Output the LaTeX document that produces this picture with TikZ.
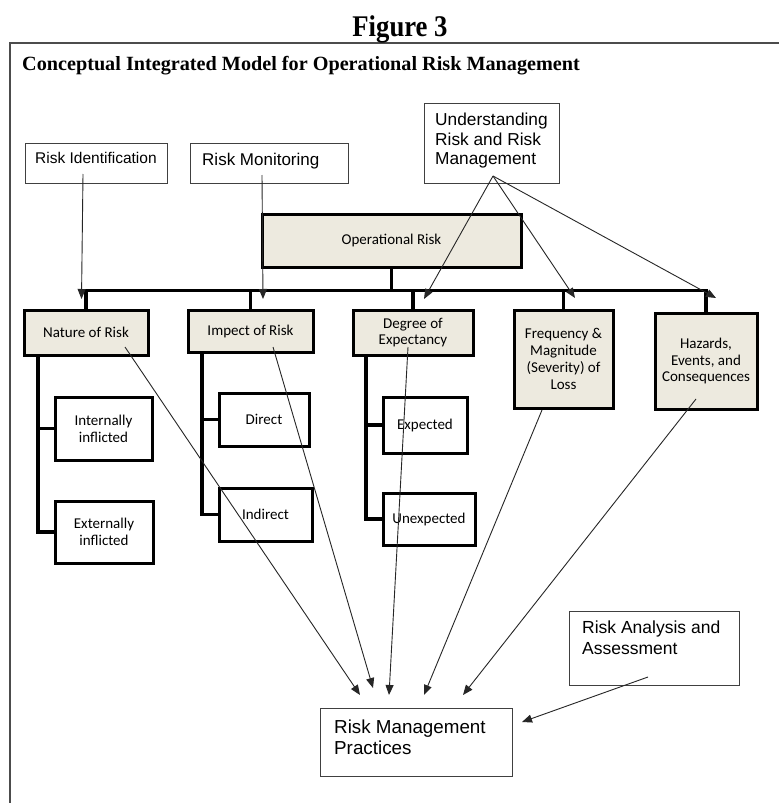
\documentclass[tikz,border=0pt]{standalone}
\usepackage{fontspec}
\setmainfont{Liberation Serif}
\newfontfamily\arialf{Liberation Sans}
\newfontfamily\calf{Carlito}
\usetikzlibrary{arrows.meta}
\definecolor{beige}{HTML}{EDEADF}
\begin{document}
\begin{tikzpicture}[x=1pt,y=-1pt,
  thinbox/.style={draw=black!75, line width=1.2pt, inner sep=0pt, anchor=north west},
  heavybox/.style={draw=black, line width=3pt, fill=beige, inner sep=0pt, align=center,
    font=\calf\fontsize{15}{16.8}\selectfont},
  childbox/.style={heavybox, fill=white},
  bus/.style={line width=3.2pt},
  arr/.style={draw=black!85, line width=0.9pt, -{Triangle[length=10pt,width=8pt]}},
  atext/.style={anchor=base west, inner sep=0pt, align=left}]
\useasboundingbox (0,0) rectangle (779,803);
\fill[white] (0,0) rectangle (779,803);

% frame and titles
\draw[line width=1.5pt, black!70] (10,803) -- (10,43) -- (779,43);
\node[anchor=base, inner sep=0pt] (fig) at (400,36.7)
  {\scalebox{0.89}[1]{\fontsize{30}{30}\selectfont\bfseries Figure 3}};
\node[anchor=base west, inner sep=0pt] (sub) at (22,70)
  {\fontsize{20.2}{21}\selectfont\bfseries Conceptual Integrated Model for Operational Risk Management};

% thin boxes
\node[thinbox, minimum width=142, minimum height=40] (rid) at (25,143) {};
\node[atext, font=\arialf\fontsize{15.5}{18}\selectfont] (ridt) at (35,163) {Risk Identification};
\node[thinbox, minimum width=158, minimum height=40] (rmon) at (190,143) {};
\node[atext, font=\arialf\fontsize{17}{19}\selectfont] (rmont) at (202,165.5) {Risk Monitoring};
\node[thinbox, minimum width=135, minimum height=80] (und) at (424,103) {};
\node[atext, anchor=north west, font=\arialf\fontsize{17.3}{19.5}\selectfont] (undt) at (435,113)
  {Understanding\\Risk and Risk\\Management};
\node[thinbox, minimum width=170, minimum height=74] (ras) at (569,611) {};
\node[atext, anchor=north west, font=\arialf\fontsize{17.5}{20.7}\selectfont] (rast) at (582,620.5)
  {Risk Analysis and\\Assessment};
\node[thinbox, minimum width=192, minimum height=68] (rmp) at (320,708) {};
\node[atext, anchor=north west, font=\arialf\fontsize{18.8}{21}\selectfont] (rmpt) at (334,719.5)
  {Risk Management\\Practices};

% heavy boxes
\node[heavybox, minimum width=259, minimum height=53] (op) at (391.5,240.5) {Operational Risk};
\node[heavybox, minimum width=124, minimum height=45] (nat) at (86,332.5) {Nature of Risk};
\node[heavybox, minimum width=125, minimum height=42] (imp) at (250.5,331) {Impect of Risk};
\node[heavybox, minimum width=120, minimum height=45] (deg) at (413,332.5) {Degree of\\Expectancy};
\node[heavybox, minimum width=99, minimum height=98] (fre) at (563.5,359)
  {Frequency \&\\Magnitude\\(Severity) of\\Loss};
\node[heavybox, minimum width=102, minimum height=96] (haz) at (706,361)
  {Hazards,\\Events, and\\Consequences};

\node[childbox, minimum width=97, minimum height=63] (int) at (103.5,428.5) {Internally\\inflicted};
\node[childbox, minimum width=98, minimum height=62] (ext) at (104,532) {Externally\\inflicted};
\node[childbox, minimum width=90, minimum height=53] (dir) at (264,419.5) {Direct};
\node[childbox, minimum width=93, minimum height=53] (ind) at (265.5,514.5) {Indirect};
\node[childbox, minimum width=84, minimum height=56] (exq) at (425,425) {Expected};
\node[childbox, minimum width=92, minimum height=52] (unx) at (429,519) {Unexpected};

% bus
\coordinate (busc) at (0,290.5);
\draw[bus] (op.south) -- (op.south |- busc);
\draw[bus] (nat.north) -- (nat.north |- busc) -- (haz.north |- busc) -- (haz.north);
\draw[bus] (imp.north) -- (imp.north |- busc);
\draw[bus] (deg.north) -- (deg.north |- busc);
\draw[bus] (fre.north) -- (fre.north |- busc);

% spines
\coordinate (natsp) at (38,355);
\draw[bus] (natsp) |- (ext.west);
\draw[bus] (natsp |- int.west) -- (int.west);
\coordinate (impsp) at (202,352);
\draw[bus] (impsp) |- (ind.west);
\draw[bus] (impsp |- dir.west) -- (dir.west);
\coordinate (degsp) at (366,355);
\draw[bus] (degsp) |- (unx.west);
\draw[bus] (degsp |- exq.west) -- (exq.west);

% arrows
\coordinate (ridS) at (83,174);   \coordinate (ridE) at (81.5,299);
\coordinate (rmonS) at (262,175); \coordinate (rmonE) at (263,299);
\coordinate (undS) at (493,176);
\coordinate (undE1) at (424,299); \coordinate (undE2) at (575,298); \coordinate (undE3) at (716,298);
\coordinate (natS) at (125,347);  \coordinate (natE) at (360,695);
\coordinate (impS) at (273,347);  \coordinate (impE) at (373,688);
\coordinate (degS) at (408,347);  \coordinate (degE) at (389,695);
\coordinate (freS) at (542,410);  \coordinate (freE) at (424,695);
\coordinate (hazS) at (696,399);  \coordinate (hazE) at (463,695);
\coordinate (rasS) at (648,677);  \coordinate (rasE) at (522,722);

\draw[arr] (ridS) -- (ridE);
\draw[arr] (rmonS) -- (rmonE);
\draw[arr] (undS) -- (undE1);
\draw[arr] (undS) -- (undE2);
\draw[arr] (undS) -- (undE3);
\draw[arr] (natS) -- (natE);
\draw[arr] (impS) -- (impE);
\draw[arr] (degS) -- (degE);
\draw[arr] (freS) -- (freE);
\draw[arr] (hazS) -- (hazE);
\draw[arr] (rasS) -- (rasE);
\end{tikzpicture}
\end{document}
